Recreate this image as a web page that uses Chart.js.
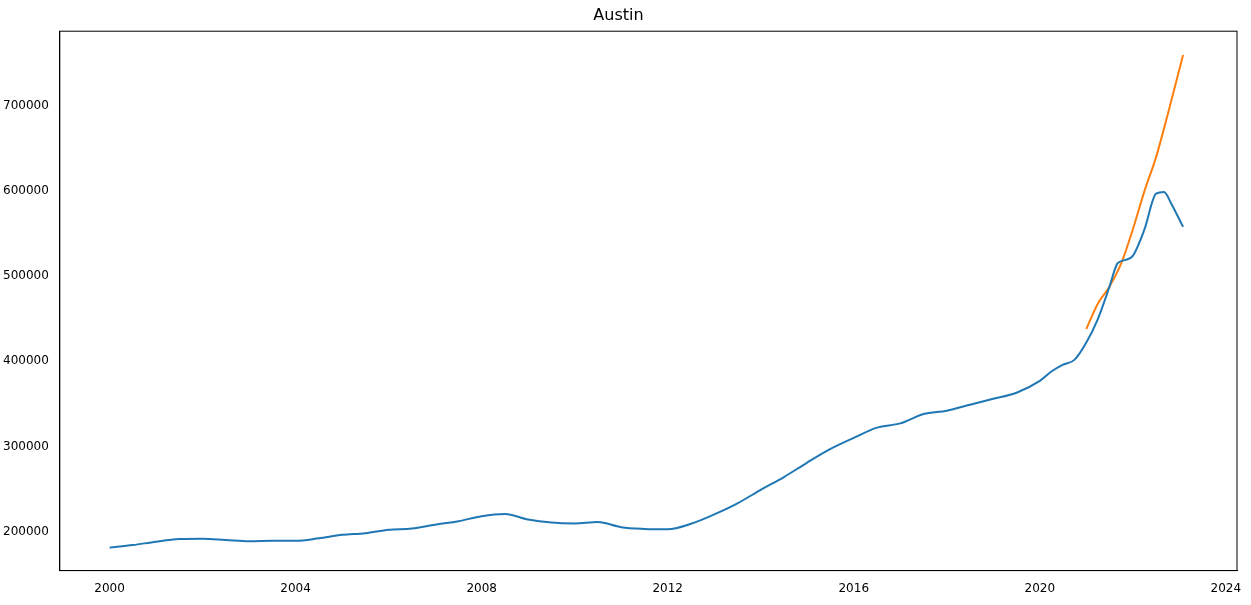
<!DOCTYPE html>
<html><head><meta charset="utf-8">
<script src="https://cdn.jsdelivr.net/npm/chart.js@4.4.0/dist/chart.umd.min.js"></script>
<style>body{margin:0;background:#fff}#wrap{width:1251px;height:605px}</style>
</head><body><div id="wrap"><canvas id="c"></canvas></div>
<script>
const blueYears = [2000,2000.5,2001,2001.5,2002,2002.5,2003,2003.5,2004,2004.5,2005,2005.5,2006,2006.5,2007,2007.5,2008,2008.5,2009,2009.5,2010,2010.5,2011,2011.5,2012,2012.5,2013,2013.5,2014,2014.5,2015,2015.5,2016,2016.5,2017,2017.5,2018,2018.5,2019,2019.5,2020,2020.25,2020.5,2020.75,2021,2021.25,2021.5,2021.67,2021.83,2022,2022.25,2022.5,2022.67,2022.83,2023.08];
const blueValues = [181000,184000,188000,191000,191500,190000,188500,189000,189000,192000,196000,198000,202000,203500,208000,212000,218000,220500,214000,210500,209500,211000,205000,203000,202500,209000,220000,233000,249000,264000,281000,297000,310000,322000,327000,338000,342000,349000,356000,363000,377000,388000,396000,402000,422000,450000,488000,515000,519000,524000,555000,597000,599000,585000,558000];
const orangeYears = [2021,2021.25,2021.5,2021.75,2022,2022.25,2022.5,2022.75,2023.08];
const orangeValues = [438000,468000,488000,515000,555000,600000,640000,690000,760000];
const xTicks = [2000,2004,2008,2012,2016,2020,2024];
const yTicks = [200000,300000,400000,500000,600000,700000];

const pts = (xs, ys) => xs.map((x, i) => ({x, y: ys[i]}));
new Chart(document.getElementById('c'), {
  type: 'line',
  data: { datasets: [
    { data: pts(blueYears, blueValues), borderColor: '#1f77b4', borderWidth: 2, pointRadius: 0, cubicInterpolationMode: 'monotone' },
    { data: pts(orangeYears, orangeValues), borderColor: '#ff7f0e', borderWidth: 2, pointRadius: 0, cubicInterpolationMode: 'monotone' }
  ]},
  options: {
    responsive: true, maintainAspectRatio: false, animation: false,
    layout: { padding: { left: 0, right: 14, top: 0, bottom: 6 } },
    plugins: {
      legend: { display: false }, tooltip: { enabled: false },
      title: { display: true, text: 'Austin', color: '#000', font: { family: 'DejaVu Sans', size: 16, weight: 'normal' }, padding: { top: 6, bottom: 6 } }
    },
    scales: {
      x: { type: 'linear', min: 1998.93, max: 2024.24,
        afterBuildTicks: a => { a.ticks = xTicks.map(v => ({value: v})); },
        grid: { display: false, drawTicks: true }, border: { color: '#000' },
        ticks: { color: '#000', font: { family: 'DejaVu Sans', size: 12 }, maxRotation: 0, callback: v => String(v) } },
      y: { min: 154000, max: 788000,
        afterBuildTicks: a => { a.ticks = yTicks.map(v => ({value: v})); },
        grid: { display: false }, border: { color: '#000' },
        ticks: { color: '#000', font: { family: 'DejaVu Sans', size: 12 }, callback: v => String(v) } }
    }
  },
  plugins: [{ id: 'frame', afterDraw(c) { const a = c.chartArea, g = c.ctx; g.save(); g.strokeStyle = '#000'; g.lineWidth = 1; g.strokeRect(a.left, a.top, a.width, a.height); g.restore(); } }]
});
</script></body></html>
